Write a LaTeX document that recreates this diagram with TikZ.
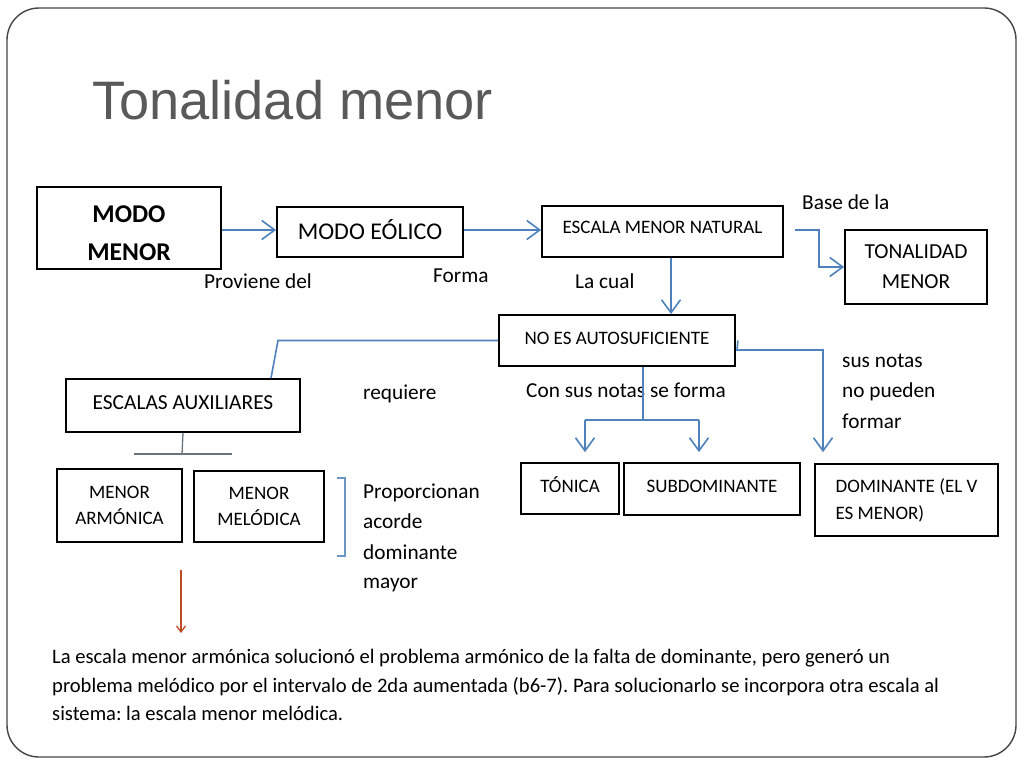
\documentclass[tikz,border=0pt]{standalone}
\usepackage{fontspec}
\setmainfont{Carlito}
\newfontfamily\titlefont{Liberation Sans}
\usetikzlibrary{arrows.meta}
\definecolor{conn}{RGB}{79,129,189}
\definecolor{titlegray}{RGB}{89,89,89}
\definecolor{framegray}{RGB}{70,70,70}
\definecolor{darkred}{RGB}{190,75,40}
\definecolor{linegray}{RGB}{105,115,125}
\definecolor{brackblue}{RGB}{110,150,195}
\frenchspacing
\begin{document}
\begin{tikzpicture}[x=1pt,y=-1pt,
  box/.style={draw=black, line width=1.8pt, inner sep=0pt, align=center, text=black},
  link/.style={draw=conn, line width=1.6pt},
  arr/.style={link, -{Straight Barb[length=13pt,width=19pt,line width=1.6pt]}},
  lbl/.style={anchor=base west, inner sep=0pt, font=\fontsize{21.3}{24}\selectfont},
  para/.style={anchor=base west, inner sep=0pt, font=\fontsize{20.6}{24}\selectfont},
  fsmall/.style={font=\fontsize{19}{26}\selectfont}
]
\useasboundingbox (0,0) rectangle (1024,768);
\fill[white] (0,0) rectangle (1024,768);
\draw[framegray, line width=1.4pt, rounded corners=32pt] (7,8) rectangle (1016,757);

\node[anchor=base west, inner sep=0pt, text=titlegray, font=\titlefont\fontsize{54.2}{60}\selectfont] (title) at (92,119) {Tonalidad menor};

% boxes
\node[box, minimum width=184pt, minimum height=82pt, font=\bfseries\fontsize{25.6}{38}\selectfont] (mm) at (129,228) {\rule{0pt}{28pt}MODO\\MENOR};
\node[box, minimum width=186pt, minimum height=50pt, text height=15pt, text depth=1pt, font=\fontsize{24}{28}\selectfont] (eol) at (370,232) {MODO EÓLICO};
\node[box, minimum width=241pt, minimum height=51pt, text height=12pt, text depth=9pt, fsmall] (emn) at (662.5,231.5) {ESCALA MENOR NATURAL};
\node[box, minimum width=142pt, minimum height=74pt, font=\fontsize{21.4}{30}\selectfont] (ton) at (916,267) {TONALIDAD\\MENOR};
\node[box, minimum width=236pt, minimum height=51pt, text height=12pt, text depth=5pt, fsmall] (noes) at (617,340.5) {NO ES AUTOSUFICIENTE};
\node[box, minimum width=234pt, minimum height=53pt, text height=13pt, text depth=6pt, font=\fontsize{21.4}{24}\selectfont] (aux) at (183,405.5) {ESCALAS AUXILIARES};
\node[box, minimum width=125pt, minimum height=73pt, fsmall] (arm) at (119.5,505.5) {MENOR\\ARMÓNICA};
\node[box, minimum width=130pt, minimum height=71pt, fsmall] (mel) at (259,506.5) {MENOR\\MELÓDICA};
\node[box, minimum width=98pt, minimum height=51pt, text height=12pt, text depth=5pt, fsmall] (tonica) at (570,488.5) {TÓNICA};
\node[box, minimum width=176pt, minimum height=52pt, text height=12pt, text depth=6pt, fsmall] (sub) at (712,489) {SUBDOMINANTE};
\node[box, minimum width=183pt, minimum height=72pt, align=left, font=\fontsize{19}{27}\selectfont] (dom) at (906.5,500) {DOMINANTE (EL V\\ES MENOR)};

% labels
\node[lbl] (l1) at (204,288) {Proviene del};
\node[lbl] (l2) at (433,282) {Forma};
\node[lbl] (l3) at (802,209) {Base de la};
\node[lbl] (l4) at (575,288) {La cual};
\node[lbl] (l5) at (363,399) {requiere};
\node[lbl] (l6) at (526,397) {Con sus notas se forma};
\node[lbl] (l7) at (842,367) {sus notas};
\node[lbl] (l8) at (842,397) {no pueden};
\node[lbl] (l9) at (842,428) {formar};
\node[lbl] (l10) at (363,498) {Proporcionan};
\node[lbl] (l11) at (363,528) {acorde};
\node[lbl] (l12) at (363,559) {dominante};
\node[lbl] (l13) at (363,588) {mayor};

\node[para] (p1) at (52,663) {La escala menor armónica solucionó el problema armónico de la falta de dominante, pero generó un};
\node[para] (p2) at (52,692) {problema melódico por el intervalo de 2da aumentada (b6-7). Para solucionarlo se incorpora otra escala al};
\node[para] (p3) at (52,720) {sistema: la escala menor melódica.};

% connectors
\path ([yshift=2pt]eol.west) coordinate (eolin) ([yshift=1.5pt]emn.west) coordinate (emnin);
\draw[arr] (mm.east |- eolin) -- (eolin);
\draw[arr] (eol.east |- emnin) -- (emnin);
\draw[arr] ([xshift=11pt]emnin -| emn.east) -- ([xshift=35pt]emnin -| emn.east) |- (ton.west);
\draw[arr] ([xshift=8.5pt]emn.south) -- ([xshift=8.5pt]emn.south |- noes.north);
\draw[link] (noes.west) -- ([xshift=95pt]aux.north |- noes.west) -- ([xshift=88pt]aux.north);

\coordinate (split) at (643,420);
\draw[link] ([xshift=26pt]noes.south) -- (split);
\coordinate (tL) at (585,420);
\coordinate (tR) at (699,420);
\draw[link] (tL) -- (tR);
\draw[arr, shorten >=10pt] (tL) -- (tL |- tonica.north);
\draw[arr, shorten >=10pt] (tR) -- (tR |- sub.north);

\coordinate (dk1) at (737,350);
\coordinate (dk2) at (823,350);
\draw[arr, shorten >=11pt] ([xshift=2pt]noes.east) -- (dk1) -- (dk2) -- (dk2 |- dom.north);

\coordinate (aj) at (182,454);
\draw[linegray, line width=1.3pt] (aux.south) -- (aj);
\draw[linegray, line width=1.3pt] (134,454) -- (232,454);

\draw[brackblue, line width=1.3pt] (337,478) -- (345,478) -- (345,556) -- (337,556);

\coordinate (ra1) at (181,570);
\coordinate (ra2) at (181,633);
\draw[darkred, line width=1.3pt, -{Straight Barb[length=6pt,width=9pt,line width=1.3pt]}] (ra1) -- (ra2);
\end{tikzpicture}
\end{document}
